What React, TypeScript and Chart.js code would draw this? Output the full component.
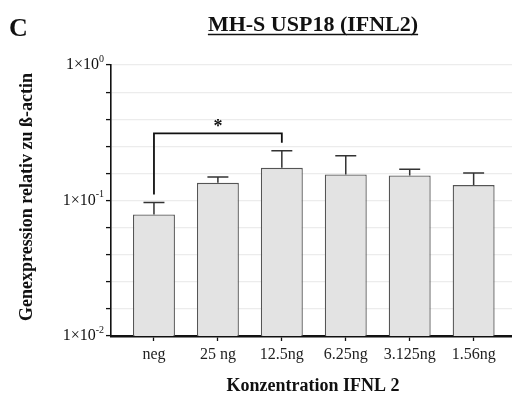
import React, { useEffect, useRef } from 'react';
import { Chart, registerables } from 'chart.js';

Chart.register(...registerables);

// Treatment groups (IFNL2 concentration) and measured expression (mean, mean + SD)
const categories = ['neg', '25 ng', '12.5ng', '6.25ng', '3.125ng', '1.56ng'];
const means = [0.0789, 0.135, 0.1742, 0.1558, 0.1532, 0.1299];
const upperSD = [0.0967, 0.1488, 0.2327, 0.2137, 0.1704, 0.1593];

// Log axis: tick exponents (five steps per decade), labelled decades
const yTickExponents = [-2, -1.8, -1.6, -1.4, -1.2, -1, -0.8, -0.6, -0.4, -0.2, 0];
const decadeExponents = [-2, -1, 0];

// Significance bracket between two groups
const sigFrom = 0;
const sigTo = 2;
const sigLabel = '*';
const bracketTop = 0.313;
const bracketLegEnds = [0.1108, 0.2667];

const SERIF = '"Liberation Serif", "DejaVu Serif", serif';

const annotations = {
  id: 'annotations',
  afterDatasetsDraw(chart: any) {
    const { ctx, scales } = chart;
    const x = scales.x;
    const y = scales.y;
    const meta = chart.getDatasetMeta(0);

    // error bars (upper only)
    ctx.save();
    ctx.strokeStyle = '#333';
    ctx.lineWidth = 1.5;
    meta.data.forEach((bar: any, i: number) => {
      const cx = bar.x;
      const yTop = y.getPixelForValue(means[i]);
      const yErr = y.getPixelForValue(upperSD[i]);
      const half = bar.width / 4;
      ctx.beginPath();
      ctx.moveTo(cx, yTop);
      ctx.lineTo(cx, yErr);
      ctx.moveTo(cx - half, yErr);
      ctx.lineTo(cx + half, yErr);
      ctx.stroke();
    });
    ctx.restore();

    // significance bracket
    ctx.save();
    ctx.strokeStyle = '#111';
    ctx.lineWidth = 1.8;
    const x1 = x.getPixelForValue(sigFrom);
    const x2 = x.getPixelForValue(sigTo);
    const yb = y.getPixelForValue(bracketTop);
    ctx.beginPath();
    ctx.moveTo(x1, y.getPixelForValue(bracketLegEnds[0]));
    ctx.lineTo(x1, yb);
    ctx.lineTo(x2, yb);
    ctx.lineTo(x2, y.getPixelForValue(bracketLegEnds[1]));
    ctx.stroke();
    ctx.fillStyle = '#111';
    ctx.font = `bold 18px ${SERIF}`;
    ctx.textAlign = 'center';
    ctx.textBaseline = 'alphabetic';
    ctx.fillText(sigLabel, (x1 + x2) / 2, yb - 1);
    ctx.restore();
  },
  afterDraw(chart: any) {
    const { ctx, scales } = chart;
    const y = scales.y;
    ctx.save();
    ctx.fillStyle = '#111';

    // y tick labels 1×10^n
    const right = y.right - 7;
    decadeExponents.forEach((e) => {
      const py = y.getPixelForValue(Math.pow(10, e));
      const sup = String(e);
      ctx.font = `10px ${SERIF}`;
      const supW = ctx.measureText(sup).width;
      ctx.textBaseline = 'middle';
      ctx.textAlign = 'left';
      ctx.fillText(sup, right - supW, py - 6);
      ctx.font = `16px ${SERIF}`;
      ctx.textAlign = 'right';
      ctx.fillText('1×10', right - supW, py);
    });

    // panel letter
    ctx.font = `bold 26px ${SERIF}`;
    ctx.textAlign = 'left';
    ctx.textBaseline = 'alphabetic';
    ctx.fillText('C', 9, 36);

    // chart title, underlined
    const title = 'MH-S USP18 (IFNL2)';
    ctx.font = `bold 22px ${SERIF}`;
    ctx.textAlign = 'center';
    ctx.fillText(title, 313, 31);
    const tw = ctx.measureText(title).width;
    ctx.strokeStyle = '#111';
    ctx.lineWidth = 1.5;
    ctx.beginPath();
    ctx.moveTo(313 - tw / 2, 34.5);
    ctx.lineTo(313 + tw / 2, 34.5);
    ctx.stroke();

    // x axis title
    ctx.font = `bold 18px ${SERIF}`;
    ctx.textBaseline = 'middle';
    ctx.fillText('Konzentration IFNL 2', 313, 386);

    // y axis title
    ctx.translate(27, 197);
    ctx.rotate(-Math.PI / 2);
    ctx.font = `bold 18px ${SERIF}`;
    ctx.fillText('Genexpression relativ zu ß-actin', 0, 0);
    ctx.restore();
  },
};

export default function App() {
  const ref = useRef<HTMLCanvasElement>(null);

  useEffect(() => {
    if (!ref.current) return;
    const chart = new Chart(ref.current, {
      type: 'bar',
      data: {
        datasets: [
          {
            data: means.map((v, i) => ({ x: i, y: v })),
            backgroundColor: '#e3e3e3',
            borderColor: '#555',
            borderWidth: 1.3,
            barPercentage: 0.82,
            categoryPercentage: 0.8,
          },
        ],
      },
      options: {
        animation: false,
        responsive: false,
        maintainAspectRatio: false,
        layout: { padding: { top: 65, right: 0, left: 0, bottom: 0 } },
        plugins: {
          legend: { display: false },
          tooltip: { enabled: false },
          title: { display: false },
        },
        scales: {
          x: {
            type: 'linear',
            offset: false,
            min: -0.672,
            max: 5.6,
            afterBuildTicks: (s: any) => {
              s.ticks = categories.map((_, i) => ({ value: i }));
            },
            afterFit: (s: any) => {
              s.height = 66;
            },
            ticks: {
              autoSkip: false,
              maxRotation: 0,
              padding: 4,
              color: '#222',
              font: { family: SERIF, size: 16 },
              callback: (v: any) => categories[v],
            },
            grid: {
              offset: false,
              drawOnChartArea: false,
              drawTicks: true,
              tickLength: 5,
              tickColor: '#111',
              tickWidth: 1.3,
            },
            border: { color: '#111', width: 2.5 },
          },
          y: {
            type: 'logarithmic',
            min: 0.01,
            max: 1,
            afterBuildTicks: (s: any) => {
              s.ticks = yTickExponents.map((e) => ({ value: Math.pow(10, e) }));
            },
            afterFit: (s: any) => {
              s.width = 111;
            },
            ticks: {
              autoSkip: false,
              callback: () => '',
            },
            grid: {
              color: '#ececec',
              lineWidth: 1.2,
              drawTicks: true,
              tickLength: 5,
              tickColor: '#111',
              tickWidth: 1.3,
            },
            border: { color: '#111', width: 1.6 },
          },
        },
      },
      plugins: [annotations],
    });
    return () => chart.destroy();
  }, []);

  return (
    <div style={{ position: 'fixed', left: 0, top: 0, width: 512, height: 402, background: '#fff' }}>
      <canvas ref={ref} width={512} height={402} />
    </div>
  );
}
